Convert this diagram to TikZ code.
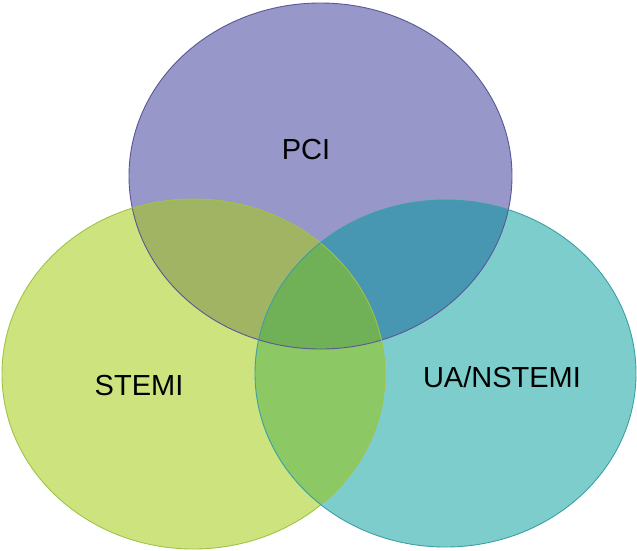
\documentclass[tikz,border=0pt]{standalone}
\usepackage{fontspec}
\setmainfont{Liberation Sans}
\definecolor{pcif}{RGB}{151,151,201}
\definecolor{stemif}{RGB}{205,228,126}
\definecolor{uaf}{RGB}{126,205,205}
\definecolor{pcistemi}{RGB}{160,180,100}
\definecolor{pciua}{RGB}{72,151,178}
\definecolor{stemiua}{RGB}{140,201,100}
\definecolor{allthree}{RGB}{112,176,86}
\definecolor{pcib}{RGB}{88,88,150}
\definecolor{stemib}{RGB}{160,195,70}
\definecolor{uab}{RGB}{60,160,165}
\tikzset{lbl/.style={inner sep=0pt,font=\fontsize{29}{34}\selectfont,text=black}}
\def\pcishape{(320.5pt,-176pt) ellipse (191.5pt and 173pt)}
\def\stemishape{(193.5pt,-374pt) ellipse (191.5pt and 175pt)}
\def\uashape{(445.5pt,-373.5pt) ellipse (190.5pt and 173.5pt)}
\begin{document}
\begin{tikzpicture}[x=1pt,y=-1pt]
\useasboundingbox (0,0) rectangle (637,550);
\fill[white] (0,0) rectangle (637,550);
\fill[pcif] \pcishape;
\fill[stemif] \stemishape;
\fill[uaf] \uashape;
\begin{scope}\clip \pcishape; \fill[pcistemi] \stemishape; \end{scope}
\begin{scope}\clip \pcishape; \fill[pciua] \uashape; \end{scope}
\begin{scope}\clip \stemishape; \fill[stemiua] \uashape; \end{scope}
\begin{scope}\clip \pcishape; \clip \stemishape; \fill[allthree] \uashape; \end{scope}
\draw[pcib,line width=0.9pt] \pcishape;
\draw[stemib,line width=0.9pt] \stemishape;
\draw[uab,line width=0.9pt] \uashape;
\node[lbl] (pci) at (306,150) {PCI};
\node[lbl] (stemi) at (139,386) {STEMI};
\node[lbl] (ua) at (502,377) {UA/NSTEMI};
\end{tikzpicture}
\end{document}
